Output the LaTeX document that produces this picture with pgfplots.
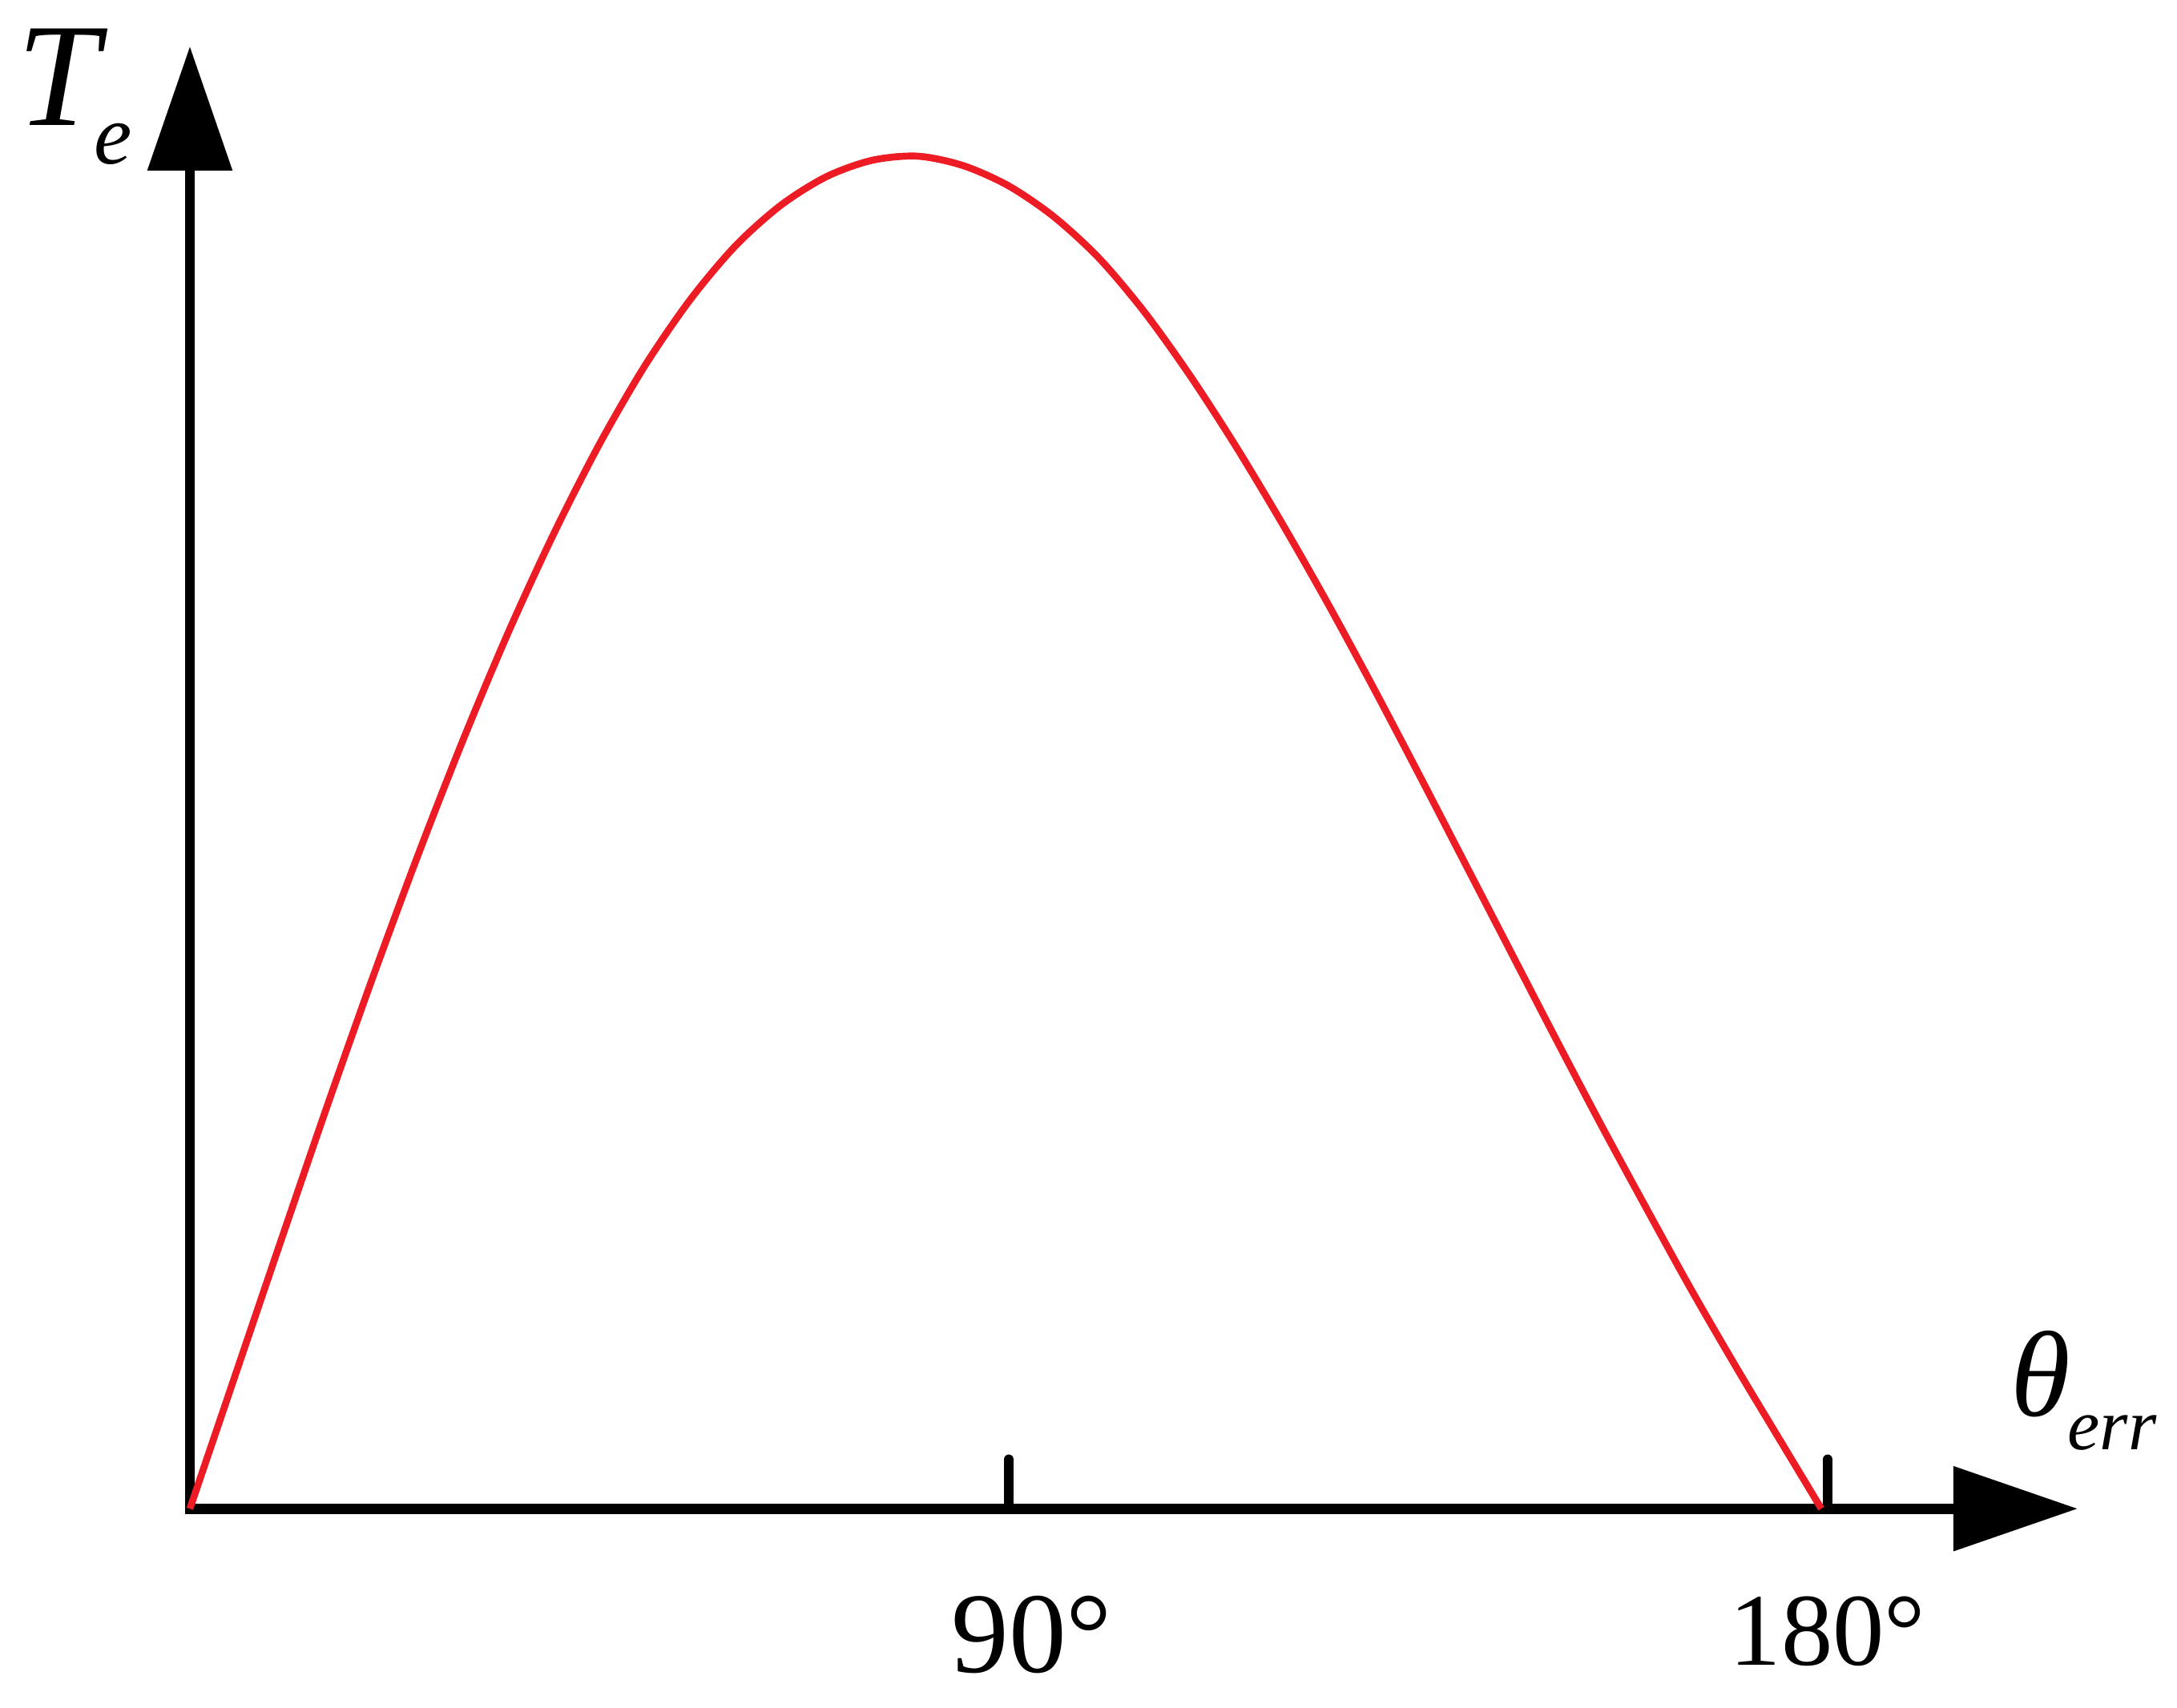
\documentclass[border=0pt]{standalone}
\usepackage{fontspec}
\setmainfont{Liberation Serif}
\usepackage{pgfplots}
\pgfplotsset{compat=1.18}
\usetikzlibrary{arrows.meta}
\definecolor{curvered}{RGB}{237,28,36}

\begin{document}
\begin{tikzpicture}
\begin{axis}[
    scale only axis,
    width=353.4pt,
    height=273.8pt,
    xmin=0, xmax=207.47,
    ymin=0, ymax=1.0812,
    axis lines=left,
    axis line style={line width=1.9pt, line cap=rect, black},
    x axis line style={-{Triangle[length=23.25pt,width=15.45pt]}},
    y axis line style={-{Triangle[length=23.25pt,width=15.45pt]}},
    xtick={90,180},
    xticklabels={{\fontsize{21.5}{24}\selectfont 90\rlap{°}},{\fontsize{19.3}{22}\selectfont 180°}},
    ytick=\empty,
    tick align=inside,
    major tick length=9.2pt,
    xtick style={line width=1.9pt, line cap=round, black},
    xticklabel style={anchor=north, inner sep=0pt, yshift=-16.2pt},
    clip=false
]

% torque vs. angle error (peak normalised to 1)
\addplot[curvered, line width=1.3pt, smooth] coordinates {
    (0,0) (5,0.099) (10,0.198) (15,0.296) (20,0.391) (25,0.482)
    (30,0.568) (35,0.648) (40,0.721) (45,0.787) (50,0.845)
    (55,0.894) (60,0.934) (65,0.964) (70,0.985) (75,0.997)
    (80,1.000) (85,0.993) (90,0.978) (95,0.955) (100,0.924)
    (105,0.884) (110,0.837) (115,0.785) (120,0.729) (125,0.670)
    (130,0.608) (135,0.544) (140,0.479) (145,0.414) (150,0.349)
    (155,0.285) (160,0.223) (165,0.162) (170,0.104) (175,0.048)
    (179.3,0)
};

\node[anchor=base west, inner sep=0pt] at (axis cs:-19.1,1.0225)
    {\fontsize{27.6}{30}\selectfont\itshape T\kern-1pt\raisebox{-7.2pt}{\fontsize{16}{18}\selectfont e}};
\node[anchor=base west, inner sep=0pt] at (axis cs:199.98,0.0687)
    {\fontsize{22.8}{26}\selectfont\itshape θ\kern-0.5pt\raisebox{-6.4pt}{\fontsize{13.6}{16}\selectfont err}};

% page size
\path (axis cs:-20.87,-0.1469) rectangle (axis cs:218.39,1.1155);
\end{axis}
\end{tikzpicture}
\end{document}
